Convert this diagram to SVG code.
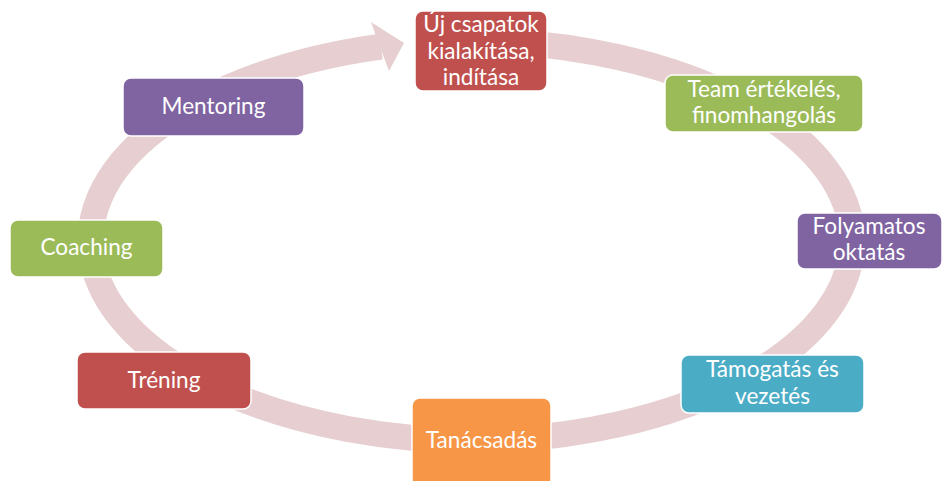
<svg xmlns="http://www.w3.org/2000/svg" width="943" height="481" viewBox="0 0 943 481">
  <style>
    .box { stroke: #ffffff; stroke-width: 1.5; }
    .lbl { font-family: Lato, "Open Sans", "Liberation Sans", sans-serif; font-size: 22.6px; fill: #ffffff; text-anchor: middle; }
    .ring { fill: none; stroke: #E7CFD1; stroke-width: 26; }
  </style>
  <rect width="943" height="481" fill="#ffffff"/>
  <g id="connectors">
    <path class="ring" d="M 481 40.5 A 390.5 200.5 0 0 1 481 441 A 390.5 200.5 0 0 1 381 46.7"/>
    <polygon points="371,22 404,43 389,71 380,47" fill="#E7CFD1"/>
  </g>
  <g id="node-uj">
    <rect class="box" x="415" y="11" width="132" height="80" rx="8" fill="#C0504D"/>
    <text class="lbl" x="481" y="32">Új csapatok</text>
    <text class="lbl" x="481" y="59">kialakítása,</text>
    <text class="lbl" x="481" y="85">indítása</text>
  </g>
  <g id="node-team">
    <rect class="box" x="665" y="75" width="198" height="57" rx="8" fill="#9BBB59"/>
    <text class="lbl" x="764" y="97">Team értékelés,</text>
    <text class="lbl" x="764" y="123">finomhangolás</text>
  </g>
  <g id="node-folyamatos">
    <rect class="box" x="797" y="213" width="145" height="56" rx="8" fill="#8064A2"/>
    <text class="lbl" x="869" y="234">Folyamatos</text>
    <text class="lbl" x="869" y="260">oktatás</text>
  </g>
  <g id="node-tamogatas">
    <rect class="box" x="681" y="355" width="183" height="58" rx="8" fill="#4BACC6"/>
    <text class="lbl" x="772.5" y="377">Támogatás és</text>
    <text class="lbl" x="772.5" y="404">vezetés</text>
  </g>
  <g id="node-tanacsadas">
    <rect class="box" x="412" y="398" width="139" height="95" rx="8" fill="#F79646"/>
    <text class="lbl" x="481.5" y="448">Tanácsadás</text>
  </g>
  <g id="node-trening">
    <rect class="box" x="77" y="352" width="174" height="57" rx="8" fill="#C0504D"/>
    <text class="lbl" x="164" y="388">Tréning</text>
  </g>
  <g id="node-coaching">
    <rect class="box" x="10" y="220" width="153" height="57" rx="8" fill="#9BBB59"/>
    <text class="lbl" x="86.5" y="255">Coaching</text>
  </g>
  <g id="node-mentoring">
    <rect class="box" x="123" y="78" width="181" height="58" rx="8" fill="#8064A2"/>
    <text class="lbl" x="213.5" y="114">Mentoring</text>
  </g>
</svg>
